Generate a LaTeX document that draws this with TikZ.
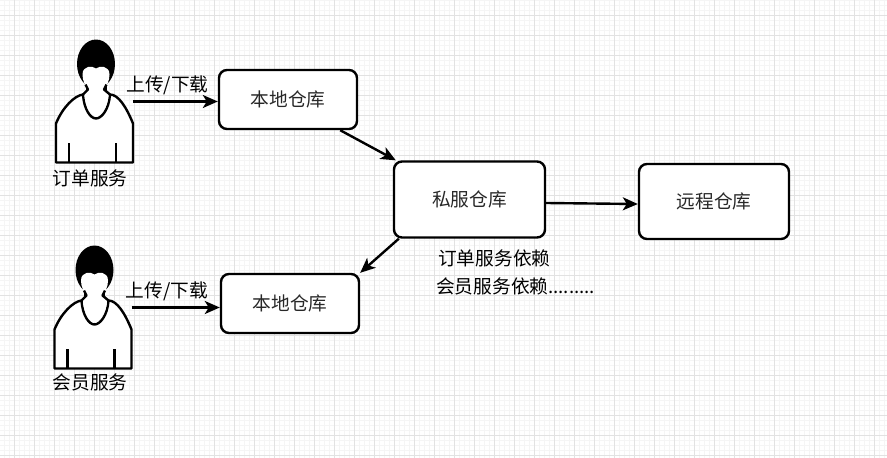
\documentclass[tikz,border=0pt]{standalone}
\usepackage{fontspec}
\setmainfont{Noto Sans CJK SC}
\usepackage{tikz}
\usetikzlibrary{arrows.meta,positioning}
\definecolor{gridmajor}{RGB}{226, 226, 226}
\definecolor{gridminor}{RGB}{245, 245, 245}
\definecolor{boxtext}{RGB}{40, 40, 40}
\tikzstyle{repo} = [rectangle, draw=black, line width=2.4pt, fill=white, rounded corners=8pt, text=boxtext, text centered, font=\fontsize{18.7}{20}\selectfont, inner sep=0pt]
\tikzstyle{caption} = [text=black, inner sep=0pt, font=\fontsize{18.7}{20}\selectfont]
\tikzstyle{userbox} = [rectangle, minimum width=77pt, minimum height=123pt, inner sep=0pt]
\tikzstyle{tedge}  = [draw, line width=2.4pt, -{Stealth[length=15pt,width=13pt,inset=4pt]}]
\tikzset{
  person/.pic={
    % hair, body, then face and neck on top
    \fill[black] (1.5,-37.5) ellipse (19 and 24.5);
    \fill[black] (-9,-20) rectangle (12,-12);
    \draw[black, line width=2.4pt, fill=white, line join=round] (-38.5,61) -- (-38.5,22)
      .. controls (-32,6) and (-20,-6) .. (-11.5,-7)
      .. controls (-10.5,8) and (-4,17) .. (1.5,17)
      .. controls (7,17) and (14.5,8) .. (15.5,-7)
      .. controls (24,-7) and (32,6) .. (38.5,22) -- (38.5,61) -- cycle;
    \fill[white] (1.5,-33) .. controls (-2,-36) and (-12,-36) .. (-12,-27)
      .. controls (-12,-20) and (-9,-16) .. (-6.5,-12)
      -- (-10,-6) .. controls (-9,6) and (-3,15) .. (1.5,15)
      .. controls (6,15) and (13,6) .. (14,-6) -- (9.5,-12)
      .. controls (12,-16) and (15,-20) .. (15,-27)
      .. controls (15,-36) and (5,-36) .. (1.5,-33) -- cycle;
    \draw[black, line width=2.4pt, line join=round] (-9,-17) .. controls (-7,-15) .. (-6.5,-12) -- (-11.5,-7)
      (12,-17) .. controls (10,-15) .. (9.5,-12) -- (15.5,-7);
    \draw[black, line width=2.4pt] (-25.5,61) -- (-25.5,41) (21.5,61) -- (21.5,41);
  }
}

\begin{document}
\begin{tikzpicture}[x=1pt, y=-1pt]

\useasboundingbox (0,0) rectangle (887,458);

% grid =============================
\fill[white] (0,0) rectangle (887,458);
\foreach \gx in {4,9,...,884} \draw[gridminor, line width=0.8pt] (\gx,0) -- (\gx,458);
\foreach \gy in {0,5,...,455} \draw[gridminor, line width=0.8pt] (0,\gy) -- (887,\gy);
\foreach \gx in {14,34,...,874} \draw[gridmajor, line width=0.9pt] (\gx,0) -- (\gx,458);
\foreach \gy in {15,35,...,455} \draw[gridmajor, line width=0.9pt] (0,\gy) -- (887,\gy);

% users
\node[userbox] (user1) at (94.5,101.5) {};
\node[userbox] (user2) at (93,307.5) {};
\pic at (user1.center) {person};
\pic at (user2.center) {person};
\node[caption, below=6pt of user1, xshift=-4.5pt] (name1) {订单服务};
\node[caption, below=4pt of user2, xshift=-3pt] (name2) {会员服务};

% repositories
\node[repo, minimum width=138pt, minimum height=59pt] (local1) at (288,99.5) {本地仓库};
\node[repo, minimum width=138pt, minimum height=59pt] (local2) at (290,303.5) {本地仓库};
\node[repo, minimum width=151pt, minimum height=76pt] (private) at (469.5,199.5) {私服仓库};
\node[repo, minimum width=150pt, minimum height=75pt] (remote) at (714,201.5) {远程仓库};

% notes
\node[caption, anchor=west] (note1) at (438,258) {订单服务依赖};
\node[caption, anchor=west] (note2) at (436,286) {会员服务依赖.........};

%edges
\path[tedge] (user1.east) -- node[caption, above=5pt, xshift=-8pt] (load1) {上传/下载} (local1.west |- user1.east);
\path[tedge] (user2.east) -- node[caption, above=5pt, xshift=-9pt] (load2) {上传/下载} (local2.west |- user2.east);
\path[tedge] ([xshift=-18pt]local1.south east) -- ([xshift=3pt]private.north west);
\path[tedge] ([xshift=6pt]private.south west) -- (local2.north east);
\path[tedge] ([yshift=-3.5pt]private.east) -- ([yshift=-2.5pt]remote.west);

\end{tikzpicture}
\end{document}
